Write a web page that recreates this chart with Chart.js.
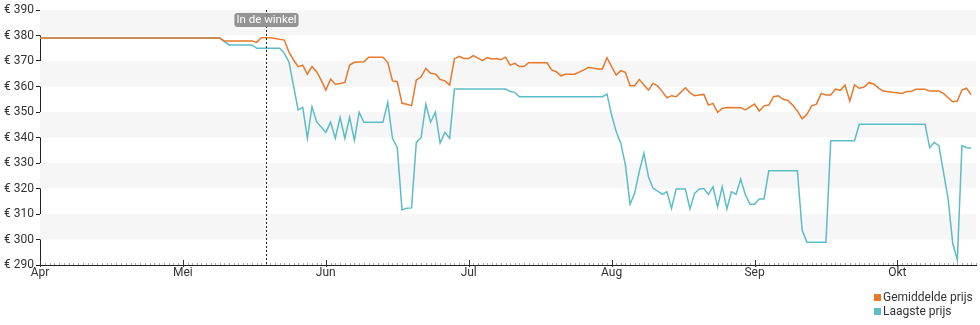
<!DOCTYPE html>
<html>
<head>
<meta charset="utf-8">
<script src="https://cdn.jsdelivr.net/npm/chart.js@4.4.1/dist/chart.umd.min.js"></script>
<style>
  body { margin: 0; background: #fff; font-family: Roboto, sans-serif; }
  #wrap { position: relative; width: 980px; height: 325px; }
  #legend { position: absolute; left: 874px; top: 290px; font-size: 12px; color: #333; line-height: 14px; }
  #legend .item { display: flex; align-items: center; }
  #legend .box { width: 7px; height: 7px; margin-right: 2px; }
</style>
</head>
<body>
<div id="wrap">
  <canvas id="priceChart" width="980" height="325"></canvas>
  <div id="legend"></div>
</div>
<script>
// month axis: Apr..Okt, each month gets the same width
const monthNames = ["Apr", "Mei", "Jun", "Jul", "Aug", "Sep", "Okt"];
const monthDays = [30, 31, 30, 31, 31, 30, 31];

// Gemiddelde prijs (MM-DD, euro)
const avgDates = ["04-01","05-09","05-10","05-16","05-17","05-18","05-20","05-23","05-24","05-25","05-26","05-27","05-28","05-29","05-30","05-31",
  "06-01","06-02","06-03","06-04","06-05","06-06","06-07","06-09","06-10","06-13","06-14","06-15","06-16","06-17","06-18","06-19","06-20","06-21","06-22","06-23","06-24","06-25","06-26","06-27","06-28","06-29","06-30",
  "07-01","07-02","07-04","07-05","07-06","07-07","07-08","07-09","07-10","07-11","07-12","07-13","07-14","07-18","07-19","07-20","07-21","07-22","07-24","07-26","07-27","07-29","07-30","07-31",
  "08-01","08-02","08-03","08-04","08-05","08-06","08-07","08-08","08-09","08-10","08-11","08-12","08-13","08-14","08-15","08-16","08-17","08-18","08-19","08-20","08-21","08-22","08-23","08-24","08-25","08-26","08-29","08-30",
  "09-01","09-02","09-03","09-04","09-05","09-06","09-07","09-08","09-09","09-10","09-11","09-12","09-13","09-14","09-15","09-16","09-17","09-18","09-19","09-20","09-21","09-22","09-23","09-24","09-25","09-26","09-27","09-28","09-30",
  "10-02","10-03","10-04","10-05","10-07","10-08","10-10","10-11","10-12","10-13","10-14","10-15","10-16","10-17"];
const avgPrice = [379,379,377.8,377.8,377.3,379.1,379.1,378.2,373.5,370.4,367.8,368.4,364.8,367.8,365.8,362.5,
  358.6,362.9,360.9,361.2,361.6,368.4,369.5,369.7,371.5,371.5,369.5,362.2,361.9,353.4,353,352.5,362.5,363.8,367.1,365.2,364.9,362.8,362.2,360.6,370.8,371.8,371,
  371,372.1,370.1,371.3,370.8,371,370.5,371.5,368.4,369.1,367.8,367.8,369.3,369.3,366.5,365.8,364.2,364.8,364.8,366.5,367.5,366.9,366.9,371.3,
  367.8,364.5,366.2,365.6,360.3,360.3,362.8,360.6,358.6,361.2,360.2,358,355.6,356.4,356,357.7,359.5,357.6,356.4,356.7,356.9,352.7,353.4,349.9,351.4,351.8,351.7,350.8,
  353.1,350.4,352.4,352.7,356,356.4,355,354.5,352.7,350.4,347.3,349.1,352.4,353.1,357.3,356.7,356.7,359,358.5,360.6,354.3,360.6,359.3,359.8,361.5,361,359.5,358.2,357.7,
  357.3,358,358,358.9,358.9,358.2,358.2,357.3,355.6,354,354.3,358.6,359.3,356.7];

// Laagste prijs (MM-DD, euro)
const lowDates = ["04-01","05-09","05-11","05-16","05-17","05-22","05-23","05-24","05-26","05-27","05-28","05-29","05-30",
  "06-01","06-02","06-03","06-04","06-05","06-06","06-07","06-08","06-09","06-13","06-14","06-15","06-16","06-17","06-18","06-19","06-20","06-21","06-22","06-23","06-24","06-25","06-26","06-27","06-28",
  "07-09","07-10","07-11","07-12","07-30","07-31",
  "08-01","08-02","08-03","08-04","08-05","08-06","08-07","08-08","08-09","08-10","08-11","08-12","08-13","08-14","08-15","08-17","08-18","08-19","08-20","08-21","08-22","08-23","08-24","08-25","08-26","08-27","08-28","08-29","08-30","08-31",
  "09-01","09-02","09-03","09-04","09-10","09-11","09-12","09-16","09-17","09-22","09-23",
  "10-07","10-08","10-09","10-10","10-12","10-13","10-14","10-15","10-16","10-17"];
const lowPrice = [379,379,376.3,376.3,375,375,373,369.7,350.8,351.8,339.7,352,346.2,
  342,346,339.7,347.9,339.7,347.9,338.9,349.9,346,346,353.8,339.7,336,311.6,312.3,312.4,338.1,339.9,353,346,349.9,337.8,342,339.7,359,
  359,358,357.7,356,356,357,
  348.8,342.3,337.7,329.2,313.8,318.1,326.6,333.8,324.6,320.1,319,317.7,318.8,312.2,319.8,319.8,312,318.1,319.8,320,317.7,320.7,312.9,320.7,312,318.8,317.7,323.7,317.7,313.8,
  313.8,315.9,315.9,327,327,303.7,298.9,298.9,338.7,338.7,345.2,
  345.2,336,338,336.8,315.9,298.5,292,336.8,336,335.8];

// "In de winkel" marker
const storeDate = "05-19";
const storeLabel = "In de winkel";

const yMin = 290;
const yMax = 390;
const xMax = 6.55;

// convert "MM-DD" to a position in month units (0 = 1 april)
function toX(md) {
  const [m, d] = md.split("-").map(Number);
  const i = m - 4;
  return i + (d - 1) / monthDays[i];
}

function toPoints(dates, values) {
  return dates.map((d, i) => ({ x: toX(d), y: values[i] }));
}

const orange = "#e8782a";
const teal = "#5bbdc5";

// alternating grey bands behind the lines
const bandsPlugin = {
  id: "bands",
  beforeDatasetsDraw(chart) {
    const { ctx, chartArea, scales } = chart;
    ctx.save();
    ctx.fillStyle = "#f6f6f6";
    for (let v = yMax; v > yMin; v -= 20) {
      const top = scales.y.getPixelForValue(v);
      const bottom = scales.y.getPixelForValue(v - 10);
      ctx.fillRect(chartArea.left, top, chartArea.right - chartArea.left, bottom - top);
    }
    ctx.restore();
  },
};

// day ticks and month ticks on the x axis, plus the store marker
const extrasPlugin = {
  id: "extras",
  afterDatasetsDraw(chart) {
    const { ctx, chartArea, scales } = chart;
    const x = scales.x;
    const bottom = chartArea.bottom;
    ctx.save();

    // small day ticks
    ctx.strokeStyle = "#aaa";
    ctx.lineWidth = 1;
    monthDays.forEach((n, i) => {
      for (let d = 0; d < n; d++) {
        const v = i + d / n;
        if (v > xMax) return;
        const px = Math.round(x.getPixelForValue(v)) + 0.5;
        ctx.beginPath();
        ctx.moveTo(px, bottom - 2);
        ctx.lineTo(px, bottom);
        ctx.stroke();
      }
    });

    // month ticks
    ctx.strokeStyle = "#333";
    monthNames.forEach((_, i) => {
      const px = Math.round(x.getPixelForValue(i)) + 0.5;
      ctx.beginPath();
      ctx.moveTo(px, bottom - 5);
      ctx.lineTo(px, bottom + 2);
      ctx.stroke();
    });

    // dotted marker line
    const mx = Math.round(x.getPixelForValue(toX(storeDate))) + 0.5;
    ctx.setLineDash([2, 2]);
    ctx.strokeStyle = "#222";
    ctx.beginPath();
    ctx.moveTo(mx, chartArea.top);
    ctx.lineTo(mx, bottom);
    ctx.stroke();
    ctx.setLineDash([]);

    // marker label
    ctx.font = "11.5px Roboto";
    const w = ctx.measureText(storeLabel).width + 4;
    const h = 14;
    const bx = mx - w / 2;
    const by = 13;
    ctx.fillStyle = "rgba(130,130,130,0.85)";
    ctx.beginPath();
    ctx.roundRect(bx, by, w, h, 3);
    ctx.fill();
    ctx.fillStyle = "#fff";
    ctx.textAlign = "center";
    ctx.textBaseline = "middle";
    ctx.fillText(storeLabel, mx, by + h / 2 + 0.5);
    ctx.restore();
  },
};

const ctx = document.getElementById("priceChart").getContext("2d");
const chart = new Chart(ctx, {
  type: "line",
  data: {
    datasets: [
      {
        label: "Gemiddelde prijs",
        data: toPoints(avgDates, avgPrice),
        borderColor: orange,
        backgroundColor: orange,
        borderWidth: 1.5,
        pointRadius: 0,
        tension: 0,
      },
      {
        label: "Laagste prijs",
        data: toPoints(lowDates, lowPrice),
        borderColor: teal,
        backgroundColor: teal,
        borderWidth: 1.5,
        pointRadius: 0,
        tension: 0,
      },
    ],
  },
  options: {
    responsive: false,
    animation: false,
    layout: { padding: { top: 10, right: 4, left: 0, bottom: 0 } },
    plugins: {
      legend: { display: false },
      tooltip: { enabled: false },
    },
    scales: {
      x: {
        type: "linear",
        min: 0,
        max: xMax,
        afterBuildTicks(scale) {
          scale.ticks = monthNames.map((_, i) => ({ value: i }));
        },
        afterFit(scale) {
          scale.height = 60;
        },
        grid: { display: false, drawTicks: false },
        border: { color: "#222", width: 1 },
        ticks: {
          padding: 1,
          maxRotation: 0,
          autoSkip: false,
          color: "#333",
          font: { family: "Roboto", size: 12 },
          callback: (v) => monthNames[v],
        },
      },
      y: {
        min: yMin,
        max: yMax,
        afterFit(scale) {
          scale.width = 40;
        },
        grid: { drawOnChartArea: false, drawTicks: true, tickLength: 4, color: "#222" },
        border: { color: "#222", width: 1 },
        ticks: {
          stepSize: 10,
          padding: 2,
          color: "#333",
          font: { family: "Roboto", size: 12 },
          callback: (v) => "€ " + v,
        },
      },
    },
  },
  plugins: [bandsPlugin, extrasPlugin],
});

// legend below the chart, one entry per line
const legendEl = document.getElementById("legend");
chart.data.datasets.forEach((ds) => {
  const item = document.createElement("div");
  item.className = "item";
  item.innerHTML = `<span class="box" style="background:${ds.borderColor}"></span><span>${ds.label}</span>`;
  legendEl.appendChild(item);
});
</script>
</body>
</html>
